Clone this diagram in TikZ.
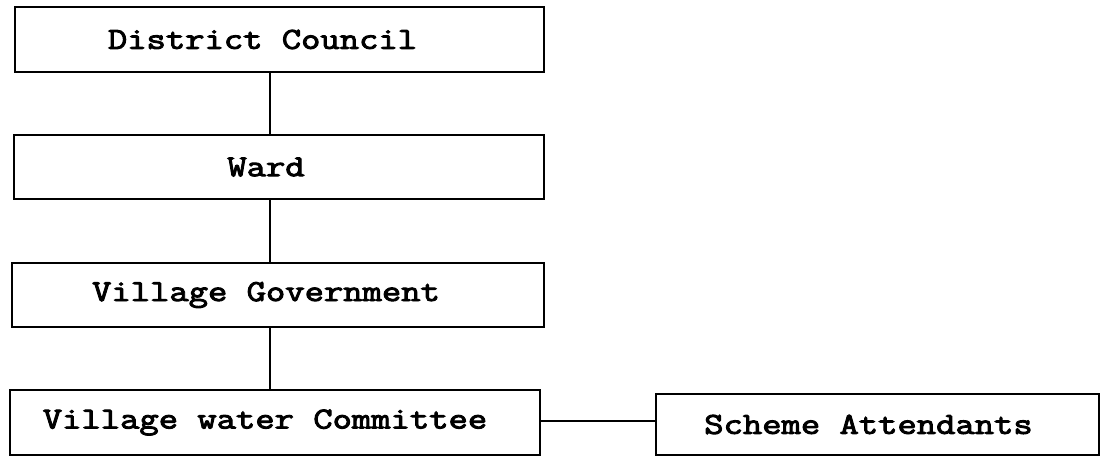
\documentclass[tikz,border=0pt]{standalone}
\usepackage{fontspec}
\newfontfamily\courfont[FakeStretch=1.23,FakeBold=3.2]{Latin Modern Mono}
\begin{document}
\begin{tikzpicture}[x=1pt,y=-1pt,
  orgbox/.style={draw=black, line width=2.6pt, inner sep=0pt, font=\courfont\fontsize{30.5}{34}\selectfont, text=black},
  link/.style={draw=black, line width=2.4pt}]
\useasboundingbox (0,0) rectangle (1101,457);
\node[orgbox, minimum width=529pt, minimum height=65pt] (dc) at (279.5,39.5) {District Council\kern34pt};
\node[orgbox, minimum width=530pt, minimum height=64pt] (ward) at (279,167) {Ward\kern26pt};
\node[orgbox, minimum width=532pt, minimum height=64pt] (vg) at (278,295) {Village Government\kern24pt};
\node[orgbox, minimum width=530pt, minimum height=65pt] (vwc) at (275,422.5) {Village water Committee\kern20pt};
\node[orgbox, minimum width=443pt, minimum height=61pt] (sa) at (877.5,424.5) {Scheme Attendants\kern18pt};
\coordinate (spine) at (270,0);
\draw[link] (dc.south -| spine) -- (ward.north -| spine);
\draw[link] (ward.south -| spine) -- (vg.north -| spine);
\draw[link] (vg.south -| spine) -- (vwc.north -| spine);
\draw[link] ([yshift=1.5pt]vwc.east) -- ([yshift=1.5pt]vwc.east -| sa.west);
\end{tikzpicture}
\end{document}
